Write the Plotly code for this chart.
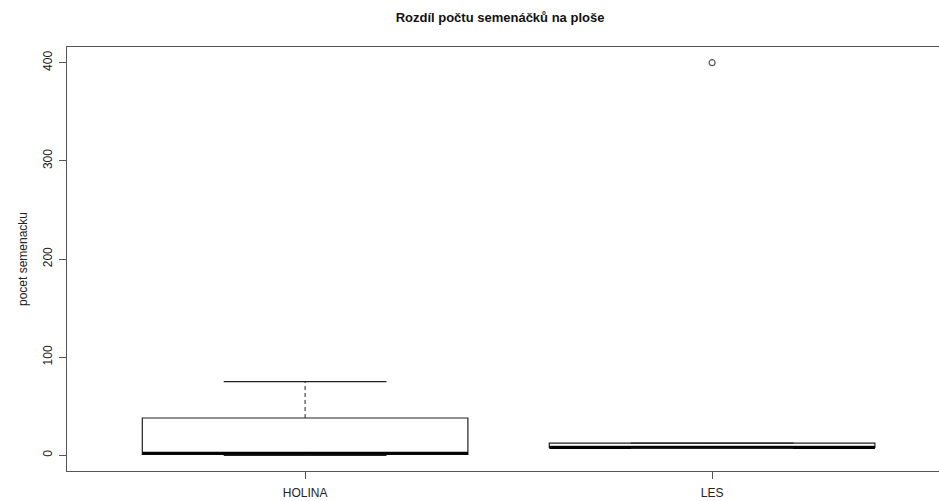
import plotly.graph_objects as go

groups = ["HOLINA", "LES"]
lower_whisker = [0, 7]
q1 = [1, 8]
median = [2, 8]
q3 = [38, 12.5]
upper_whisker = [75, 12.5]
outlier_group = ["LES"]
outlier_value = [400]
y_ticks = [0, 100, 200, 300, 400]

pos = {g: i + 1 for i, g in enumerate(groups)}
BOXW = 0.8
CAPW = BOXW / 2
LINE = "#222222"

fig = go.Figure()
for i, g in enumerate(groups):
    xc = pos[g]
    fig.add_trace(go.Box(
        x=[xc], q1=[q1[i]], median=[median[i]], q3=[q3[i]],
        lowerfence=[q1[i]], upperfence=[q3[i]],
        width=BOXW, fillcolor="white",
        line=dict(color=LINE, width=1.2),
        whiskerwidth=0, boxpoints=False, showlegend=False, hoverinfo="skip",
    ))
    # median (thick)
    fig.add_trace(go.Scatter(x=[xc - BOXW / 2, xc + BOXW / 2], y=[median[i], median[i]],
                             mode="lines", line=dict(color="black", width=3),
                             showlegend=False, hoverinfo="skip"))
    # whiskers (dashed)
    for a, b in ((q3[i], upper_whisker[i]), (q1[i], lower_whisker[i])):
        if a != b:
            fig.add_trace(go.Scatter(x=[xc, xc], y=[a, b], mode="lines",
                                     line=dict(color=LINE, width=1, dash="4px,3px"),
                                     showlegend=False, hoverinfo="skip"))
    # caps
    for v in (upper_whisker[i], lower_whisker[i]):
        fig.add_trace(go.Scatter(x=[xc - CAPW / 2, xc + CAPW / 2], y=[v, v], mode="lines",
                                 line=dict(color=LINE, width=1.2),
                                 showlegend=False, hoverinfo="skip"))

fig.add_trace(go.Scatter(x=[pos[g] for g in outlier_group], y=outlier_value, mode="markers",
                         marker=dict(symbol="circle-open", size=6, color="#555555",
                                     line=dict(width=1.2)),
                         showlegend=False, hoverinfo="skip"))

fig.update_layout(
    width=939, height=501,
    margin=dict(l=67, r=0, t=47, b=30, autoexpand=False),
    paper_bgcolor="white", plot_bgcolor="white",
    font=dict(family="Liberation Sans, Arial, sans-serif", size=12, color="#222222"),
    title=dict(text="<b>Rozdíl počtu semenáčků na ploše</b>", x=0.5325, xanchor="center",
               y=0.965, yanchor="middle", font=dict(size=13, color="#111111")),
    xaxis=dict(range=[0.415, 2.5575], tickvals=[pos[g] for g in groups], ticktext=groups,
               automargin=False, ticklabelstandoff=3,
               showgrid=False, zeroline=False, showline=True, mirror=True,
               linecolor="#555555", linewidth=1.3, ticks="outside", ticklen=7,
               tickcolor="#555555", tickfont=dict(size=12)),
    yaxis=dict(range=[-16, 416], tickvals=y_ticks, tickangle=-90, automargin=False,
               ticklabelstandoff=2,
               title=dict(text="pocet semenacku", font=dict(size=12), standoff=10),
               showgrid=False, zeroline=False, showline=True, mirror=False,
               linecolor="#555555", linewidth=1.3, ticks="outside", ticklen=7,
               tickcolor="#555555", tickfont=dict(size=12)),
)

fig.write_html("out.html", config={"displayModeBar": False, "staticPlot": True},
               post_script="document.body.style.margin='0';document.body.style.overflow='hidden';")
